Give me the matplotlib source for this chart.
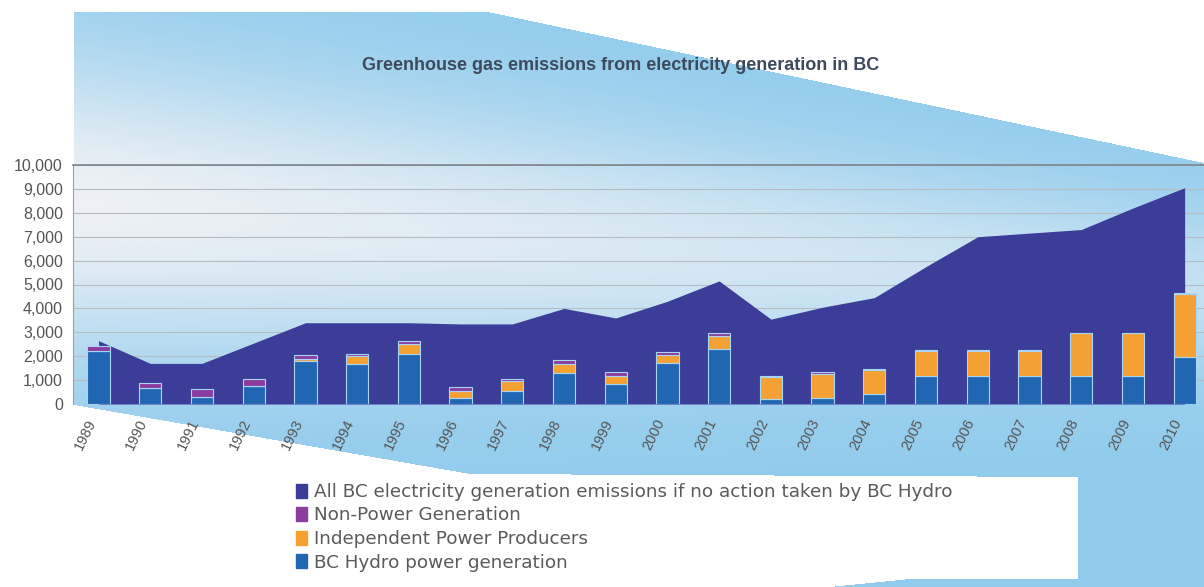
import matplotlib
matplotlib.use("Agg")
import matplotlib.pyplot as plt
import numpy as np
from matplotlib.patches import Patch
from matplotlib.path import Path
from matplotlib.ticker import FuncFormatter

plt.rcParams['font.family'] = ['Liberation Sans', 'DejaVu Sans']

# emissions, kt CO2e
years = [str(y) for y in range(1989, 2011)]
no_action = [2650, 1700, 1700, 2550, 3400, 3400, 3400, 3350, 3350, 4000, 3600,
             4300, 5150, 3550, 4050, 4450, 5750, 7000, 7150, 7300, 8200, 9050]
bc_hydro = [2230, 660, 310, 750, 1780, 1660, 2090, 240, 550, 1310, 840,
            1710, 2290, 200, 270, 400, 1180, 1180, 1180, 1180, 1180, 1950]
ipp = [0, 0, 0, 0, 100, 330, 400, 310, 400, 380, 340,
       350, 560, 950, 1000, 1010, 1040, 1040, 1040, 1780, 1780, 2650]
non_power = [210, 210, 300, 280, 180, 110, 160, 170, 90, 150, 140,
             100, 100, 30, 50, 50, 30, 30, 30, 30, 30, 30]

c_area = '#3b3d99'
c_hydro = '#2166b2'
c_ipp = '#f5a033'
c_np = '#8c3c9e'

W, H = 1204, 587
fig = plt.figure(figsize=(W / 100, H / 100), dpi=100)

# backdrop: light blue band with a pale haze, drawn in pixel coordinates
bg = fig.add_axes([0, 0, 1, 1])
bg.set_xlim(0, W)
bg.set_ylim(H, 0)
bg.axis('off')

yy, xx = np.mgrid[0:H, 0:W] + 0.5
base = np.array([0.57, 0.80, 0.93])
haze = np.array([0.93, 0.945, 0.96])
centre = 205 + 0.075 * (xx - 100)
spread = 150 - 0.06 * (xx - 100)
amp = np.clip(1 - 0.45 * (xx - 100) / 1100, 0.5, 1)
h = amp * np.exp(-((yy - centre) / spread) ** 2)
rgb = base * (1 - h)[..., None] + haze * h[..., None]

pts = np.column_stack([xx.ravel(), yy.ravel()])
band = Path([(74, 12), (488, 12), (1204, 163), (1204, 587), (1078, 587),
             (1078, 477), (470, 474), (74, 405)])
foot = Path([(830, 587), (910, 579), (1078, 579), (1078, 587)])
mask = (band.contains_points(pts) | foot.contains_points(pts)).reshape(H, W)
img = np.ones((H, W, 3))
img[mask] = rgb[mask]
bg.imshow(img, extent=(0, W, H, 0), interpolation='bilinear')

# chart
x0, x1 = 72.7, 1210.5
ytop, ybot = 165, 404
ax = fig.add_axes([x0 / W, (H - ybot) / H, (x1 - x0) / W, (ybot - ytop) / H])
ax.set_facecolor('none')

x = np.arange(len(years))
ax.fill_between(x, 0, no_action, color=c_area, lw=0, zorder=2)
bw = 0.43
ek = dict(edgecolor='#a8d6f2', linewidth=0.8, zorder=3)
ax.bar(x, bc_hydro, bw, color=c_hydro, **ek)
ax.bar(x, ipp, bw, bottom=bc_hydro, color=c_ipp, **ek)
ax.bar(x, non_power, bw, bottom=np.add(bc_hydro, ipp), color=c_np, **ek)

ax.set_xlim(-0.5, len(years) - 0.5)
ax.set_ylim(0, 10000)
ax.set_yticks(range(0, 10001, 1000))
ax.yaxis.set_major_formatter(FuncFormatter(lambda v, p: f'{int(v):,}'))
ax.set_xticks(x)
ax.set_xticklabels(years, rotation=64, ha='right', va='top')
ax.tick_params(axis='y', length=0, pad=7, labelsize=11.5, labelcolor='#555555')
ax.tick_params(axis='x', length=0, pad=9, labelsize=10.5, labelcolor='#555555')

ax.set_axisbelow(True)
ax.yaxis.grid(True, color='#b7bcc2', lw=0.8)
for s in ('right', 'bottom'):
    ax.spines[s].set_visible(False)
ax.spines['top'].set_color('#7d848c')
ax.spines['top'].set_linewidth(1.2)
ax.spines['left'].set_color('#9aa1a8')
ax.spines['left'].set_linewidth(0.8)

fig.text(621 / W, 1 - 65 / H, 'Greenhouse gas emissions from electricity generation in BC',
         ha='center', va='center', fontsize=13, fontweight='bold', color='#3c4a5c')

handles = [Patch(color=c_area), Patch(color=c_np), Patch(color=c_ipp), Patch(color=c_hydro)]
labels = ['All BC electricity generation emissions if no action taken by BC Hydro',
          'Non-Power Generation', 'Independent Power Producers', 'BC Hydro power generation']
leg = fig.legend(handles, labels, loc='upper left', bbox_to_anchor=(296 / W, 1 - 483 / H),
                 bbox_transform=fig.transFigure, frameon=False,
                 prop={'family': 'DejaVu Sans', 'size': 13.2},
                 handlelength=0.6, handleheight=0.8, handletextpad=0.4,
                 labelspacing=0.3, borderpad=0, borderaxespad=0)
for t in leg.get_texts():
    t.set_color('#5a5a5a')

fig.savefig('out.png', dpi=100)
